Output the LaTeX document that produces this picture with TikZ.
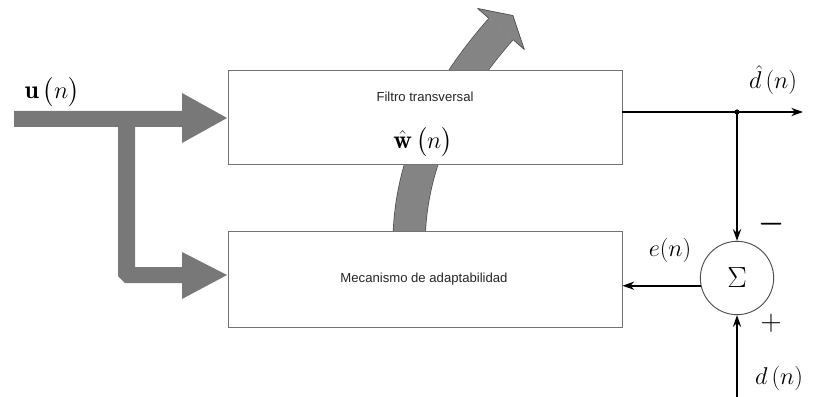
\documentclass[tikz,border=0pt]{standalone}
\usepackage{fontspec}
\usepackage{amsmath}
\newfontfamily\blockfont{Liberation Sans}
\usetikzlibrary{arrows.meta}
\definecolor{feedgray}{RGB}{120,120,120}
\definecolor{adaptgray}{RGB}{132,132,132}
\begin{document}
\begin{tikzpicture}
[x=0.03cm, y=-0.03cm,
block/.style={draw=black!55, line width=0.8pt, fill=white, minimum width=11.82cm, inner sep=0pt},
blocktext/.style={font=\blockfont\fontsize{11.2}{13}\selectfont, text=black!85, inner sep=1pt},
sumnode/.style={draw=black!70, line width=0.8pt, fill=white, circle, minimum size=2.2cm, inner sep=0pt, font=\fontsize{30}{34}\selectfont},
sig/.style={font=\fontsize{22}{26}\selectfont, inner sep=0pt},
sgn/.style={font=\fontsize{34}{36}\selectfont, inner sep=0pt},
line/.style={line width=1.4pt, -{Stealth[length=10pt,width=7pt]}}]
\useasboundingbox (0,0) rectangle (817,397);

% adaptation arrow, behind the blocks
\draw[draw=black!70, line width=0.6pt, double=adaptgray, double distance=0.95cm]
  (409,245) .. controls (409,150) and (458,78) .. (501,29);
\fill[adaptgray] (477.7,8.5) -- (512.9,15.5) -- (524.3,49.5) -- cycle;
\draw[black!70, line width=0.6pt, line join=round]
  (488.6,18.1) -- (477.7,8.5) -- (512.9,15.5) -- (524.3,49.5) -- (513.4,39.9);

% input u(n), split to both blocks
\fill[feedgray] (14,111) -- (182,111) -- (182,93) -- (227,118) -- (182,143) -- (182,127)
  -- (135,127) -- (135,267) -- (182,267) -- (182,252) -- (227,275) -- (182,299)
  -- (182,283) -- (125,283) -- (118,276) -- (118,127) -- (14,127) -- cycle;
\node[sig] (u) at (52,92) {$\mathbf{u}\,\big(n\big)$};

% blocks
\node[block, minimum height=2.82cm] (filtro) at (425,117) {};
\node[blocktext] (filtrotxt) at (425,97) {Filtro transversal};
\node[sig] (w) at (423,142) {$\hat{\mathbf{w}}\,\big(n\big)$};
\node[block, minimum height=2.88cm] (mecan) at (425,279) {};
\node[blocktext] (mecantxt) at (424,279) {Mecanismo de adaptabilidad};

% sum and signals
\node[sumnode] (sum) at (737,278) {$\Sigma$};
\coordinate (jn) at (737,112);
\coordinate (dout) at (803,112);
\coordinate (din) at (737,397);
\draw[line] (filtro.east |- jn) -- (dout);
\fill (jn) circle (2.6);
\draw[line] (jn) -- (sum.north);
\draw[line] (din) -- (sum.south);
\draw[line] (sum.192) -- (mecan.east |- sum.192);

\node[sig] (dhat) at (773,80) {$\hat{d}\,(n)$};
\node[sig] (e) at (670,250) {$e(n)$};
\node[sig] (d) at (779,378) {$d\,(n)$};
\node[sgn, font=\fontsize{42}{44}\selectfont\boldmath] (minus) at (772,224) {$-$};
\node[sgn] (plus) at (771,323) {$+$};
\end{tikzpicture}
\end{document}
